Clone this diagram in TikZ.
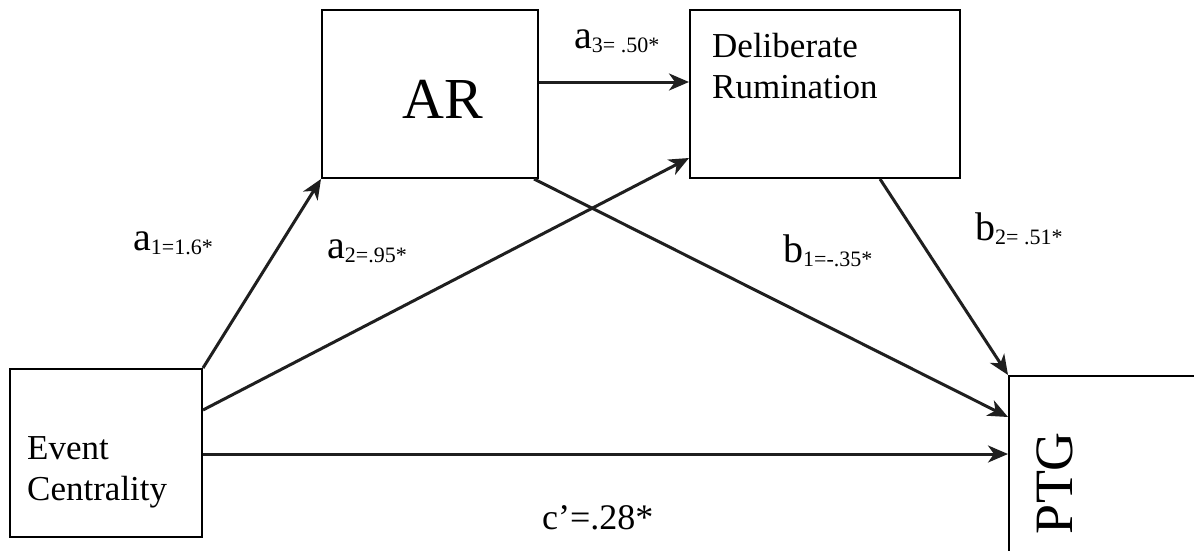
\documentclass[tikz,border=0pt]{standalone}
\usepackage{fontspec}
\setmainfont{Liberation Serif}
\usetikzlibrary{arrows.meta,calc}
\newcommand\pathlab[2]{{\fontsize{40}{42}\selectfont #1}{\fontsize{22}{24}\selectfont\raisebox{-4pt}{#2}}}
\tikzset{
  box/.style={draw=black, line width=2pt, fill=white, inner sep=0pt},
  conn/.style={draw=black!88, line width=3pt, -{Stealth[length=20pt,width=17pt,inset=6pt]}},
  lbl/.style={anchor=base west, inner sep=0pt},
}
\begin{document}
\begin{tikzpicture}[x=1pt,y=-1pt]
\useasboundingbox (0,0) rectangle (1194,550);
\clip (0,0) rectangle (1194,550);
\fill[white] (0,0) rectangle (1194,550);
% boxes
\node[box, minimum width=192pt, minimum height=168pt] (ec) at (106,453) {};
\node[box, minimum width=216pt, minimum height=168pt] (ar) at (430,94) {};
\node[box, minimum width=270pt, minimum height=168pt] (dr) at (825,94) {};
\node[box, minimum width=200pt, minimum height=200pt] (ptg) at (1109,476) {};
% box texts (base = baseline of the last line)
\node[lbl, align=left, font=\fontsize{35}{41}\selectfont] (ect) at (27,500) {Event\\Centrality};
\node[lbl, font=\fontsize{58}{60}\selectfont] (art) at (402,118) {AR};
\node[lbl, align=left, font=\fontsize{35}{41}\selectfont] (drt) at (712,98) {Deliberate\\Rumination};
\node[anchor=base, inner sep=0pt, rotate=90, font=\fontsize{54}{58}\selectfont] (ptgt) at (1072,483) {PTG};
% connectors
\draw[conn] (ec.north east) -- (ar.south west);
\draw[conn] ($(ec.north east)+(0,42)$) -- ($(dr.south west)+(0,-21)$);
\draw[conn] ($(ec.north east)+(0,86)$) -- ($(ptg.north west)+(0,79)$);
\draw[conn] ($(ar.east)+(0,-12)$) -- ($(dr.west)+(0,-12)$);
\draw[conn] ($(ar.south east)+(-5,0)$) -- ($(ptg.north west)+(0,42)$);
\draw[conn] ($(dr.south)+(55,0)$) -- (ptg.north west);
% path labels
\node[lbl] (la1) at (133,250) {\pathlab{a}{1=1.6*}};
\node[lbl] (la2) at (327,258) {\pathlab{a}{2=.95*}};
\node[lbl] (la3) at (574,48) {\pathlab{a}{3= .50*}};
\node[lbl] (lb1) at (783,262) {\pathlab{b}{1=-.35*}};
\node[lbl] (lb2) at (975,240) {\pathlab{b}{2= .51*}};
\node[lbl, font=\fontsize{36}{40}\selectfont] (lc) at (542,529) {c’=.28*};
\end{tikzpicture}
\end{document}
